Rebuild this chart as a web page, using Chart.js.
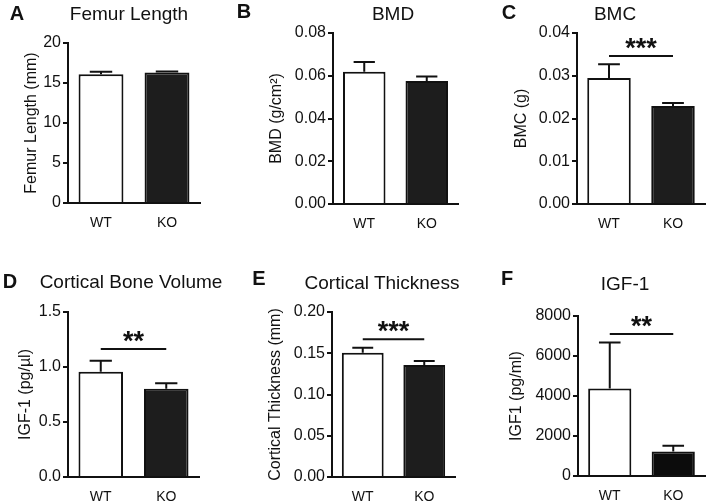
<!DOCTYPE html>
<html>

<head>
  <title>Bone phenotype WT vs KO</title>
  <script src="https://cdn.jsdelivr.net/npm/chart.js"></script>
  <style>
    body { margin: 0; background: #fff; }
    #wrap { position: relative; width: 707px; height: 501px; overflow: hidden;
            font-family: "Liberation Sans", Arial, sans-serif; color: #111; }
    canvas { position: absolute; }
    .lbl { position: absolute; transform: translate(-50%, -50%); white-space: nowrap; line-height: 1; }
    .letter { font-weight: bold; font-size: 20px; }
    .title { font-size: 19px; }
  </style>
</head>

<body>
  <div id="wrap"></div>

  <script>
    // values (mean and SEM)
    const groups = ['WT', 'KO'];
    const femurLength = [16.1, 16.3];
    const femurLengthSem = [0.3, 0.15];
    const bmd = [0.0619, 0.0575];
    const bmdSem = [0.0045, 0.0022];
    const bmc = [0.0295, 0.0229];
    const bmcSem = [0.0032, 0.0007];
    const corticalVolume = [0.957, 0.803];
    const corticalVolumeSem = [0.100, 0.049];
    const corticalThickness = [0.1507, 0.1358];
    const corticalThicknessSem = [0.0060, 0.0048];
    const igf1 = [4380, 1220];
    const igf1Sem = [2290, 290];

    // significance bars: height on the y scale and the stars
    const sigBmc = { at: 0.0346, text: '***' };
    const sigVolume = { at: 1.164, text: '**' };
    const sigThickness = { at: 0.167, text: '***' };
    const sigIgf1 = { at: 7100, text: '**' };

    const FONT = '"Liberation Sans", Arial, sans-serif';
    const INK = '#111';

    // box = canvas [x, y, w, h]; area = chart area [left, right, top, bottom]
    const panels = [
      { letter: 'A', title: 'Femur Length', yTitle: 'Femur Length (mm)',
        values: femurLength, sem: femurLengthSem, max: 20, step: 5, decimals: 0, sig: null,
        box: [0, 0, 235, 250], area: [68, 200, 43, 203], yTitleX: 32,
        titleAt: [129, 13], letterAt: [17, 13], ko: '#1d1d1d' },
      { letter: 'B', title: 'BMD', yTitle: 'BMD (g/cm²)',
        values: bmd, sem: bmdSem, max: 0.08, step: 0.02, decimals: 2, sig: null,
        box: [235, 0, 235, 250], area: [333, 458, 33, 204], yTitleX: 277,
        titleAt: [393, 13], letterAt: [244, 11], ko: '#1d1d1d' },
      { letter: 'C', title: 'BMC', yTitle: 'BMC (g)',
        values: bmc, sem: bmcSem, max: 0.04, step: 0.01, decimals: 2, sig: sigBmc,
        box: [470, 0, 237, 250], area: [577, 705, 33, 204], yTitleX: 522,
        titleAt: [615, 13], letterAt: [509, 12], ko: '#1d1d1d' },
      { letter: 'D', title: 'Cortical Bone Volume', yTitle: 'IGF-1 (pg/µl)',
        values: corticalVolume, sem: corticalVolumeSem, max: 1.5, step: 0.5, decimals: 1, sig: sigVolume,
        box: [0, 250, 235, 251], area: [68, 199, 312, 477], yTitleX: 26,
        titleAt: [131, 281], letterAt: [10, 281], ko: '#1d1d1d' },
      { letter: 'E', title: 'Cortical Thickness', yTitle: 'Cortical Thickness (mm)',
        values: corticalThickness, sem: corticalThicknessSem, max: 0.2, step: 0.05, decimals: 2, sig: sigThickness,
        box: [235, 250, 235, 251], area: [332, 455, 312, 477], yTitleX: 276,
        titleAt: [382, 282], letterAt: [259, 278], ko: '#1d1d1d' },
      { letter: 'F', title: 'IGF-1', yTitle: 'IGF1 (pg/ml)',
        values: igf1, sem: igf1Sem, max: 8000, step: 1000, labelEvery: 2000, decimals: 0, sig: sigIgf1,
        box: [470, 250, 237, 251], area: [578, 705, 316, 476], yTitleX: 517,
        titleAt: [625, 283], letterAt: [507, 278], ko: '#0c0c0c' }
    ];

    // error bars (upper only) and significance line with stars
    const extras = {
      id: 'extras',
      afterDatasetsDraw(chart, args, opts) {
        const { ctx, scales: { x, y } } = chart;
        const meta = chart.getDatasetMeta(0);
        ctx.save();
        ctx.strokeStyle = INK;
        ctx.lineWidth = 2;
        meta.data.forEach((bar, i) => {
          const v = opts.values[i];
          const top = y.getPixelForValue(v);
          const tip = y.getPixelForValue(v + opts.sem[i]);
          const half = bar.width / 4;
          ctx.beginPath();
          ctx.moveTo(bar.x, top);
          ctx.lineTo(bar.x, tip);
          ctx.moveTo(bar.x - half, tip);
          ctx.lineTo(bar.x + half, tip);
          ctx.stroke();
        });
        if (opts.sig) {
          const ly = y.getPixelForValue(opts.sig.at);
          const x0 = x.getPixelForValue(0);
          const x1 = x.getPixelForValue(1);
          ctx.beginPath();
          ctx.moveTo(x0, ly);
          ctx.lineTo(x1, ly);
          ctx.stroke();
          ctx.fillStyle = INK;
          ctx.font = 'bold 27px ' + FONT;
          ctx.textAlign = 'center';
          ctx.textBaseline = 'alphabetic';
          ctx.fillText(opts.sig.text, (x0 + x1) / 2, ly + 1);
        }
        ctx.restore();
      }
    };

    const wrap = document.getElementById('wrap');

    function addText(cls, text, at) {
      const d = document.createElement('div');
      d.className = 'lbl ' + cls;
      d.textContent = text;
      d.style.left = at[0] + 'px';
      d.style.top = at[1] + 'px';
      wrap.appendChild(d);
    }

    for (const p of panels) {
      const [cx, cy, cw, ch] = p.box;
      const [left, right, top, bottom] = p.area;
      const xAxisH = 24;
      const canvas = document.createElement('canvas');
      canvas.width = cw;
      canvas.height = ch;
      canvas.style.left = cx + 'px';
      canvas.style.top = cy + 'px';
      wrap.appendChild(canvas);

      addText('letter', p.letter, p.letterAt);
      addText('title', p.title, p.titleAt);

      new Chart(canvas, {
        type: 'bar',
        data: {
          labels: groups,
          datasets: [{
            data: p.values,
            backgroundColor: ['#ffffff', p.ko],
            borderColor: INK,
            borderWidth: 2,
            categoryPercentage: 1,
            barPercentage: 0.68
          }]
        },
        options: {
          responsive: false,
          animation: false,
          layout: {
            padding: { left: 0, top: top - cy, right: cx + cw - right, bottom: cy + ch - bottom - xAxisH }
          },
          plugins: {
            legend: { display: false },
            tooltip: { enabled: false },
            extras: { values: p.values, sem: p.sem, sig: p.sig }
          },
          scales: {
            x: {
              grid: { display: false, drawTicks: false },
              border: { display: true, color: INK, width: 2 },
              ticks: { color: INK, font: { family: FONT, size: 14 }, padding: 12 },
              afterFit: s => { s.height = xAxisH; }
            },
            y: {
              min: 0,
              max: p.max,
              grid: { display: true, drawOnChartArea: false, drawTicks: true, tickLength: 5, color: INK, lineWidth: 2 },
              border: { display: true, color: INK, width: 2 },
              ticks: {
                stepSize: p.step,
                color: INK,
                padding: 2,
                font: { family: FONT, size: 16 },
                callback: v => {
                  if (p.labelEvery && Math.round(v) % p.labelEvery !== 0) return '';
                  return Number(v).toFixed(p.decimals);
                }
              },
              title: {
                display: true,
                text: p.yTitle,
                color: INK,
                font: { family: FONT, size: 16 },
                padding: { top: p.yTitleX - cx - 9.6, bottom: 0 }
              },
              afterFit: s => { s.width = left - cx; }
            }
          }
        },
        plugins: [extras]
      });
    }
  </script>
</body>

</html>
